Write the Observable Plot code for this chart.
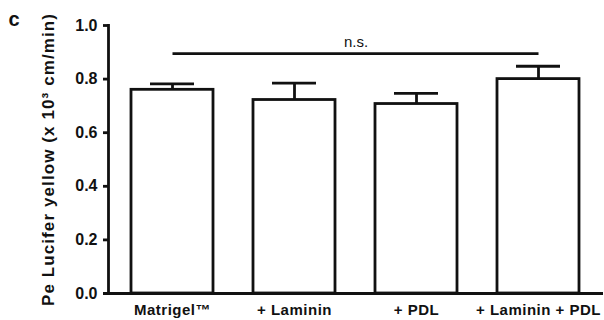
<!DOCTYPE html>
<html>
<head>
<meta charset="utf-8">
<script src="https://cdn.jsdelivr.net/npm/d3@7"></script>
<script src="https://cdn.jsdelivr.net/npm/@observablehq/plot@0.6"></script>
<style>
  html, body { margin: 0; padding: 0; background: #fff; }
</style>
</head>
<body>
<div id="chart"></div>
<script>
const categories = ["Matrigel™", "+ Laminin", "+ PDL", "+ Laminin + PDL"];
const means = [0.76, 0.722, 0.707, 0.80];
const errors = [0.022, 0.063, 0.040, 0.048];
const yTicks = [0, 0.2, 0.4, 0.6, 0.8, 1.0];
const bracketY = 0.895;
const bracketLabel = "n.s.";
const panelLabel = "c";
const yTitle = "Pe Lucifer yellow (x 10³ cm/min)";

const data = categories.map((c, i) => ({cat: c, mean: means[i], top: means[i] + errors[i]}));
const SW = 2.8;

const chart = Plot.plot({
  width: 604,
  height: 320,
  marginLeft: 108,
  marginTop: 25,
  marginBottom: 27,
  marginRight: 1,
  style: {fontFamily: "Liberation Sans, Arial, sans-serif", fontWeight: "bold", color: "#111", background: "#fff"},
  x: {domain: categories, paddingInner: 0.324, paddingOuter: 0.18, axis: null},
  y: {domain: [0, 1], axis: null},
  marks: [
    Plot.barY(data, {x: "cat", y: "mean", fill: "white", stroke: "#111", strokeWidth: SW}),
    Plot.ruleX(data, {x: "cat", y1: "mean", y2: "top", stroke: "#111", strokeWidth: SW}),
    Plot.tickY(data, {x: "cat", y: "top", insetLeft: 19, insetRight: 19, stroke: "#111", strokeWidth: SW}),
    Plot.frame({anchor: "left", stroke: "#111", strokeWidth: SW}),
    Plot.ruleY([0], {insetLeft: -5, stroke: "#111", strokeWidth: SW}),
    Plot.axisY({ticks: yTicks, tickFormat: d3.format(".1f"), tickSize: 5, tickPadding: 6, fontSize: 16, fontWeight: "bold", strokeWidth: SW, label: null}),
    Plot.axisX({tickSize: 0, tickPadding: 11, fontSize: 15, fontWeight: "bold", label: null}),
    Plot.link([0], {x1: () => categories[0], x2: () => categories[categories.length - 1], y1: () => bracketY, y2: () => bracketY, stroke: "#111", strokeWidth: SW}),
    Plot.text([bracketLabel], {text: d => d, y: () => bracketY, frameAnchor: "middle", dy: -11, fontSize: 15, fontWeight: "normal"}),
    Plot.text([panelLabel], {text: d => d, frameAnchor: "top-left", dx: -100, dy: 0, textAnchor: "start", lineAnchor: "bottom", fontSize: 20, fontWeight: "bold"}),
    Plot.text([yTitle], {text: d => d, frameAnchor: "left", dx: -60, dy: 0, rotate: -90, textAnchor: "middle", lineAnchor: "middle", fontSize: 17, fontWeight: "bold"})
  ]
});
const svg = d3.select(chart);
svg.selectAll("text").filter(function () { return this.textContent === yTitle; }).style("letter-spacing", "1.1px");
svg.selectAll("text").filter(function () { return categories.includes(this.textContent); }).style("letter-spacing", "0.5px");
document.getElementById("chart").appendChild(chart);
</script>
</body>
</html>
